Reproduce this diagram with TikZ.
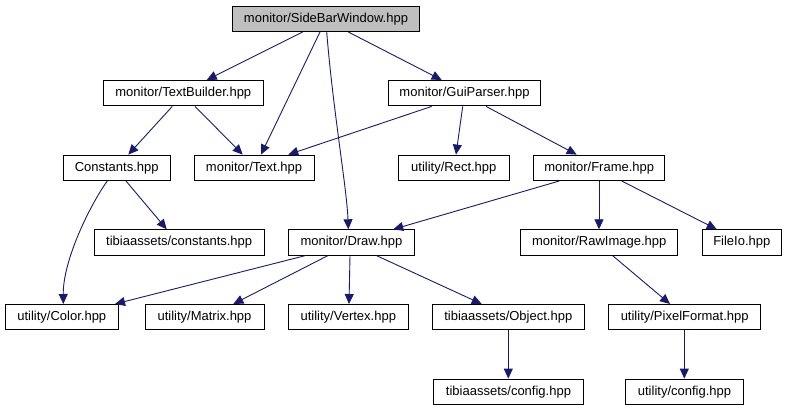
\documentclass[tikz,border=0pt]{standalone}
\usepackage{fontspec}
\setmainfont{Liberation Sans}
\usetikzlibrary{arrows.meta}
\definecolor{edgeblue}{HTML}{191970}
\definecolor{rootgray}{HTML}{BFBFBF}
\tikzset{
  file/.style={draw=black, line width=0.9pt, rectangle, inner sep=0pt, minimum height=25.5pt, font=\fontsize{13}{15}\selectfont, text=black, fill=white},
  rootfile/.style={file, fill=rootgray},
  dep/.style={draw=edgeblue, line width=0.9pt, -{Triangle[length=10pt,width=9pt]}, color=edgeblue}
}
\begin{document}
\begin{tikzpicture}[x=1pt,y=-1pt]
\useasboundingbox (0,0) rectangle (787,411);
% row 1
\node[rootfile, minimum width=186.6pt] (sb) at (326,18.8) {monitor/SideBarWindow.hpp};
% row 2
\node[file, minimum width=160pt] (tb) at (183.3,93.2) {monitor/TextBuilder.hpp};
\node[file, minimum width=152.4pt] (gp) at (464.5,93.2) {monitor/GuiParser.hpp};
% row 3
\node[file, minimum width=106.7pt] (cs) at (116.7,167.8) {Constants.hpp};
\node[file, minimum width=120pt] (tx) at (254,167.8) {monitor/Text.hpp};
\node[file, minimum width=111pt] (rc) at (453.8,167.8) {utility/Rect.hpp};
\node[file, minimum width=131pt] (fr) at (599.2,167.8) {monitor/Frame.hpp};
% row 4
\node[file, minimum width=170.3pt] (tc) at (179.2,242.5) {tibiaassets/constants.hpp};
\node[file, minimum width=125.6pt] (dr) at (351.5,242.5) {monitor/Draw.hpp};
\node[file, minimum width=157pt] (ri) at (599.2,242.5) {monitor/RawImage.hpp};
\node[file, minimum width=78.3pt] (fi) at (741.8,242.5) {FileIo.hpp};
% row 5
\node[file, minimum width=113.7pt] (co) at (61.8,317.2) {utility/Color.hpp};
\node[file, minimum width=119pt] (mx) at (204.5,317.2) {utility/Matrix.hpp};
\node[file, minimum width=119.3pt] (vx) at (348.3,317.2) {utility/Vertex.hpp};
\node[file, minimum width=152pt] (ob) at (508.3,317.2) {tibiaassets/Object.hpp};
\node[file, minimum width=152pt] (pf) at (684.7,317.2) {utility/PixelFormat.hpp};
% row 6
\node[file, minimum width=149.6pt] (tcf) at (508.5,391.8) {tibiaassets/config.hpp};
\node[file, minimum width=117.6pt] (ucf) at (684.5,391.8) {utility/config.hpp};
% edges
\draw[dep] ([xshift=-23.3pt]sb.south) -- ([xshift=23.4pt]tb.north);
\draw[dep] ([xshift=-6pt]sb.south) -- ([xshift=7pt]tx.north);
\draw[dep] ([xshift=0.7pt]sb.south) .. controls (333,110) and (347,190) .. ([xshift=-3.2pt]dr.north);
\draw[dep] ([xshift=22.3pt]sb.south) -- ([xshift=-22.8pt]gp.north);
\draw[dep] ([xshift=-11pt]tb.south) -- ([xshift=11.6pt]cs.north);
\draw[dep] ([xshift=11.7pt]tb.south) -- ([xshift=-11.3pt]tx.north);
\draw[dep] ([xshift=-32.8pt]gp.south) -- ([xshift=34.3pt]tx.north);
\draw[dep] ([xshift=-1.8pt]gp.south) -- ([xshift=2.2pt]rc.north);
\draw[dep] ([xshift=21.5pt]gp.south) -- ([xshift=-22.5pt]fr.north);
\draw[dep] ([xshift=-9.4pt]cs.south) .. controls (90,205) and (63,260) .. ([xshift=1.5pt]co.north);
\draw[dep] ([xshift=9.3pt]cs.south) -- ([xshift=-12.5pt]tc.north);
\draw[dep] ([xshift=-39.9pt]fr.south) -- ([xshift=41.8pt]dr.north);
\draw[dep] ([xshift=-0.2pt]fr.south) -- ([xshift=-0.2pt]ri.north);
\draw[dep] ([xshift=22.5pt]fr.south) -- ([xshift=-25.1pt]fi.north);
\draw[dep] ([xshift=-46.5pt]dr.south) -- ([xshift=53.2pt]co.north);
\draw[dep] ([xshift=-23.8pt]dr.south) -- ([xshift=28.8pt]mx.north);
\draw[dep] ([xshift=-1.5pt]dr.south) -- ([xshift=0.7pt]vx.north);
\draw[dep] ([xshift=25.2pt]dr.south) -- ([xshift=-26.6pt]ob.north);
\draw[dep] (ob.south) -- ([xshift=-0.2pt]tcf.north);
\draw[dep] ([xshift=13.5pt]ri.south) -- ([xshift=-14.7pt]pf.north);
\draw[dep] ([xshift=-0.4pt]pf.south) -- ([xshift=-0.2pt]ucf.north);
\end{tikzpicture}
\end{document}
